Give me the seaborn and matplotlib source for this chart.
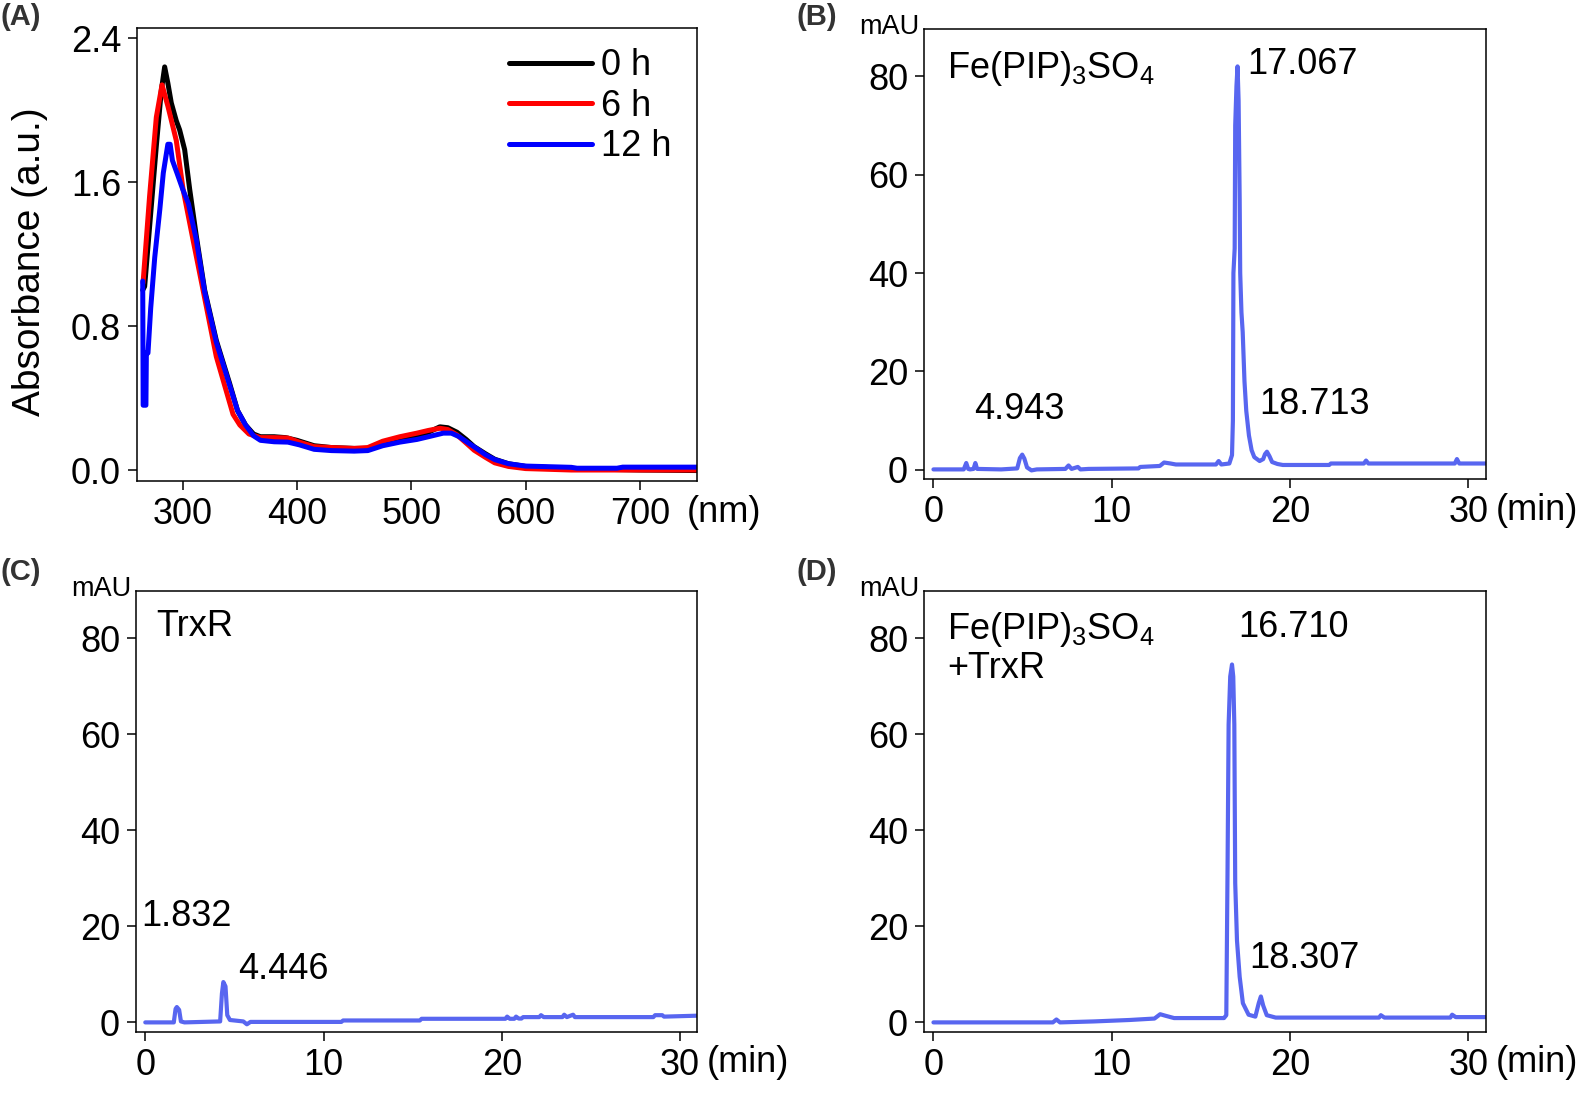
import matplotlib
matplotlib.use('Agg')
import pandas as pd
import matplotlib.pyplot as plt
import seaborn as sns

# (A) UV-vis spectra: wavelength (nm) and absorbance (a.u.)
wl_0h = [265, 266.7, 271, 276.9, 281.3, 284.2, 287, 290, 294.4, 297.3, 301.7, 306.1, 311.9, 319.2,
         329.4, 341.1, 348, 355, 362, 368, 380, 390, 400, 415, 430, 450, 462, 475, 490, 505, 515,
         525, 532, 540, 548, 555, 565, 573, 585, 600, 640, 700, 750]
abs_0h = [1.00, 1.02, 1.35, 1.80, 2.11, 2.24, 2.15, 2.04, 1.94, 1.89, 1.78, 1.56, 1.30, 1.00,
          0.72, 0.48, 0.33, 0.25, 0.20, 0.185, 0.185, 0.18, 0.165, 0.135, 0.125, 0.12, 0.12, 0.14,
          0.165, 0.19, 0.21, 0.24, 0.235, 0.21, 0.17, 0.13, 0.09, 0.06, 0.035, 0.02, 0.008, 0.0, -0.003]

wl_6h = [265.3, 271, 276.9, 281.9, 287.1, 294.4, 300.3, 309, 317.8, 329.4, 344, 350, 358, 368,
         380, 392, 402, 415, 430, 450, 462, 475, 490, 505, 515, 525, 532, 540, 548, 555, 565, 573,
         585, 600, 640, 700, 750]
abs_6h = [1.04, 1.52, 1.96, 2.14, 2.02, 1.83, 1.56, 1.28, 1.00, 0.63, 0.31, 0.25, 0.20, 0.18,
          0.18, 0.178, 0.155, 0.13, 0.125, 0.12, 0.125, 0.16, 0.185, 0.205, 0.22, 0.232, 0.225,
          0.195, 0.15, 0.11, 0.07, 0.04, 0.02, 0.008, 0.0, 0.0, 0.0]

wl_12h = [265.0, 265.4, 267.8, 268.2, 269.6, 272, 275.5, 280, 283, 287, 289, 291, 295, 300, 305,
          311.9, 319.2, 329.4, 341.1, 348, 355, 362, 368, 380, 392, 402, 415, 430, 450, 462, 475,
          490, 505, 515, 528, 535, 542, 550, 557, 565, 573, 585, 600, 640, 645, 680, 685, 750]
abs_12h = [1.05, 0.36, 0.36, 0.65, 0.65, 0.90, 1.18, 1.45, 1.65, 1.81, 1.81, 1.72, 1.65, 1.56, 1.48,
           1.28, 0.99, 0.71, 0.47, 0.33, 0.25, 0.19, 0.165, 0.157, 0.155, 0.14, 0.115, 0.108, 0.105,
           0.108, 0.135, 0.155, 0.17, 0.185, 0.205, 0.205, 0.185, 0.15, 0.12, 0.085, 0.058, 0.035,
           0.022, 0.015, 0.01, 0.01, 0.016, 0.016]

spec_labels = ['0 h', '6 h', '12 h']
spec_colors = ['black', 'red', 'blue']

# (B) HPLC Fe(PIP)3SO4: time (min) and signal (mAU)
b_time = [0.0, 1.7, 1.84, 1.95, 2.05, 2.25, 2.35, 2.45, 3.8, 4.7, 4.85, 4.98, 5.1, 5.25, 5.5, 5.8,
          7.4, 7.58, 7.75, 8.1, 8.25, 8.7, 11.5, 11.6, 12.7, 12.94, 13.3, 13.6, 15.85, 16.0, 16.15,
          16.6, 16.75, 16.8, 16.83, 16.9, 16.93, 17.0, 17.06, 17.12, 17.18, 17.21, 17.28, 17.35,
          17.45, 17.55, 17.7, 17.85, 18.0, 18.3, 18.5, 18.6, 18.71, 18.85, 19.0, 19.3, 19.6, 22.2,
          22.3, 24.15, 24.27, 24.4, 29.25, 29.37, 29.5, 31.0]
b_mau = [0.1, 0.1, 1.4, 0.2, 0.1, 0.2, 1.4, 0.2, 0.1, 0.3, 2.4, 3.1, 2.3, 0.5, -0.1, 0.1,
         0.2, 0.9, 0.2, 0.6, 0.1, 0.2, 0.3, 0.6, 0.8, 1.5, 1.3, 1.1, 1.1, 1.8, 1.1,
         1.3, 3.0, 10.0, 40.0, 45.0, 70.0, 78.0, 82.0, 75.0, 55.0, 40.0, 32.0, 28.0,
         18.0, 12.0, 7.0, 4.0, 2.6, 1.8, 2.2, 3.2, 3.7, 2.8, 1.6, 1.2, 1.0, 1.0,
         1.3, 1.3, 1.9, 1.3, 1.3, 2.2, 1.3, 1.3]

# (C) HPLC TrxR
c_time = [0.0, 1.6, 1.7, 1.77, 1.9, 2.0, 2.2, 4.2, 4.3, 4.38, 4.5, 4.6, 4.75, 5.5, 5.7, 5.9,
          11.0, 11.1, 15.4, 15.5, 20.2, 20.3, 20.45, 20.7, 20.8, 20.95, 21.1, 21.2, 22.1, 22.2,
          22.35, 23.4, 23.5, 23.65, 24.0, 24.1, 28.5, 28.6, 29.0, 29.1, 31.0]
c_mau = [0.0, 0.0, 2.8, 3.2, 2.6, 0.2, 0.0, 0.2, 6.0, 8.4, 7.5, 1.5, 0.5, 0.2, -0.4, 0.1,
         0.1, 0.4, 0.4, 0.75, 0.75, 1.2, 0.75, 0.75, 1.2, 0.8, 0.8, 1.1, 1.1, 1.5,
         1.1, 1.1, 1.6, 1.1, 1.6, 1.1, 1.1, 1.5, 1.5, 1.2, 1.4]

# (D) HPLC Fe(PIP)3SO4 + TrxR
d_time = [0.0, 6.7, 6.9, 7.1, 9.0, 11.0, 12.4, 12.72, 13.0, 13.5, 16.3, 16.43, 16.5, 16.56, 16.65,
          16.75, 16.82, 16.88, 16.93, 17.03, 17.18, 17.36, 17.68, 18.06, 18.25, 18.37, 18.5, 18.7,
          19.2, 25.0, 25.1, 25.3, 29.0, 29.1, 29.3, 31.0]
d_mau = [0.0, 0.0, 0.6, 0.0, 0.2, 0.5, 0.8, 1.7, 1.4, 0.9, 0.9, 1.5, 32.0, 62.0, 72.0,
         74.5, 72.0, 62.0, 29.0, 17.0, 9.5, 4.0, 1.6, 1.2, 4.0, 5.4, 3.5, 1.5,
         1.0, 1.0, 1.5, 1.0, 1.0, 1.6, 1.1, 1.1]

hplc_color = '#5866F0'

sns.set_style('ticks')
plt.rcParams['font.family'] = ['Liberation Sans', 'DejaVu Sans']
plt.rcParams['mathtext.fontset'] = 'custom'
plt.rcParams['mathtext.rm'] = 'Liberation Sans'
plt.rcParams['mathtext.it'] = 'Liberation Sans:italic'
plt.rcParams['mathtext.bf'] = 'Liberation Sans:bold'
plt.rcParams['text.color'] = 'black'
plt.rcParams['axes.labelcolor'] = 'black'
plt.rcParams['xtick.color'] = 'black'
plt.rcParams['ytick.color'] = 'black'

FS = 26
W, H = 1593, 1094

fig = plt.figure(figsize=(W / 100, H / 100), dpi=100)


def box(left, top, right, bottom):
    return [left / W, 1 - bottom / H, (right - left) / W, (bottom - top) / H]


ax_a = fig.add_axes(box(137, 28, 697, 481))
ax_b = fig.add_axes(box(924, 29, 1486, 479))
ax_c = fig.add_axes(box(136, 591, 697, 1032))
ax_d = fig.add_axes(box(924, 591, 1486, 1032))

# Panel A
spec = pd.concat([
    pd.DataFrame({'wl': wl_0h, 'abs': abs_0h, 'time': '0 h'}),
    pd.DataFrame({'wl': wl_6h, 'abs': abs_6h, 'time': '6 h'}),
    pd.DataFrame({'wl': wl_12h, 'abs': abs_12h, 'time': '12 h'}),
])
sns.lineplot(data=spec, x='wl', y='abs', hue='time', hue_order=spec_labels,
             palette=dict(zip(spec_labels, spec_colors)), estimator=None, sort=False,
             lw=3.6, ax=ax_a)
handles, labels = ax_a.get_legend_handles_labels()
ax_a.legend(handles=handles, labels=labels, loc='upper left', bbox_to_anchor=(0.665, 0.955),
            frameon=False, fontsize=FS, handlelength=2.3, handletextpad=0.25,
            labelspacing=0.15, borderpad=0, borderaxespad=0)
ax_a.set_xlim(260, 750)
ax_a.set_ylim(-0.061, 2.456)
ax_a.set_xticks([300, 400, 500, 600, 700])
ax_a.set_yticks([0.0, 0.8, 1.6, 2.4])
ax_a.set_yticklabels(['0.0', '0.8', '1.6', '2.4'])
ax_a.annotate('(nm)', xy=(1, 0), xycoords='axes fraction', xytext=(-10, -31),
              textcoords='offset pixels', ha='left', va='center', fontsize=FS)
fig.text(30 / W, 1 - 262 / H, 'Absorbance (a.u.)', rotation=90, ha='center', va='center',
         fontsize=FS + 2)

# Panels B-D
for ax, t, y in [(ax_b, b_time, b_mau), (ax_c, c_time, c_mau), (ax_d, d_time, d_mau)]:
    sns.lineplot(x=t, y=y, color=hplc_color, lw=3.0, estimator=None, sort=False, ax=ax)
    ax.set_xticks([0, 10, 20, 30])
    ax.set_yticks([0, 20, 40, 60, 80])
    ax.annotate('(min)', xy=(1, 0), xycoords='axes fraction', xytext=(10, -31),
                textcoords='offset pixels', ha='left', va='center', fontsize=FS)
    ax.annotate('mAU', xy=(0, 1), xycoords='axes fraction', xytext=(-5, -5),
                textcoords='offset pixels', ha='right', va='baseline', fontsize=19.5)

ax_b.set_xlim(-0.53, 31.0)
ax_b.set_ylim(-1.85, 89.6)
ax_c.set_xlim(-0.52, 30.95)
ax_c.set_ylim(-2.0, 89.8)
ax_d.set_xlim(-0.53, 31.0)
ax_d.set_ylim(-2.0, 89.8)

fe_label = r'Fe(PIP)$_\mathregular{3}$SO$_\mathregular{4}$'
ax_b.text(0.75, 81.5, fe_label, ha='left', va='center', fontsize=FS)
ax_b.text(17.6, 82.3, '17.067', ha='left', va='center', fontsize=FS)
ax_b.text(2.3, 12.3, '4.943', ha='left', va='center', fontsize=FS)
ax_b.text(18.3, 13.3, '18.713', ha='left', va='center', fontsize=FS)

ax_c.text(0.64, 82.4, 'TrxR', ha='left', va='center', fontsize=FS)
ax_c.text(-0.25, 22.0, '1.832', ha='left', va='center', fontsize=FS)
ax_c.text(5.2, 11.0, '4.446', ha='left', va='center', fontsize=FS)

ax_d.text(0.75, 81.8, fe_label, ha='left', va='center', fontsize=FS)
ax_d.text(0.75, 73.6, '+TrxR', ha='left', va='center', fontsize=FS)
ax_d.text(17.1, 82.3, '16.710', ha='left', va='center', fontsize=FS)
ax_d.text(17.7, 13.3, '18.307', ha='left', va='center', fontsize=FS)

for ax in [ax_a, ax_b, ax_c, ax_d]:
    ax.set_xlabel('')
    ax.set_ylabel('')
    ax.tick_params(direction='out', length=6.5, width=1.1, labelsize=FS, pad=5, color='black',
                   labelcolor='black')
    for s in ax.spines.values():
        s.set_linewidth(1.1)
        s.set_color('black')

for lab, x, y in [('(A)', 0, 17), ('(B)', 797, 17), ('(C)', 0, 572), ('(D)', 797, 572)]:
    fig.text(x / W, 1 - y / H, lab, ha='left', va='center', fontsize=21, fontweight='bold',
             color='#333333')

fig.savefig('out.png', dpi=100)
